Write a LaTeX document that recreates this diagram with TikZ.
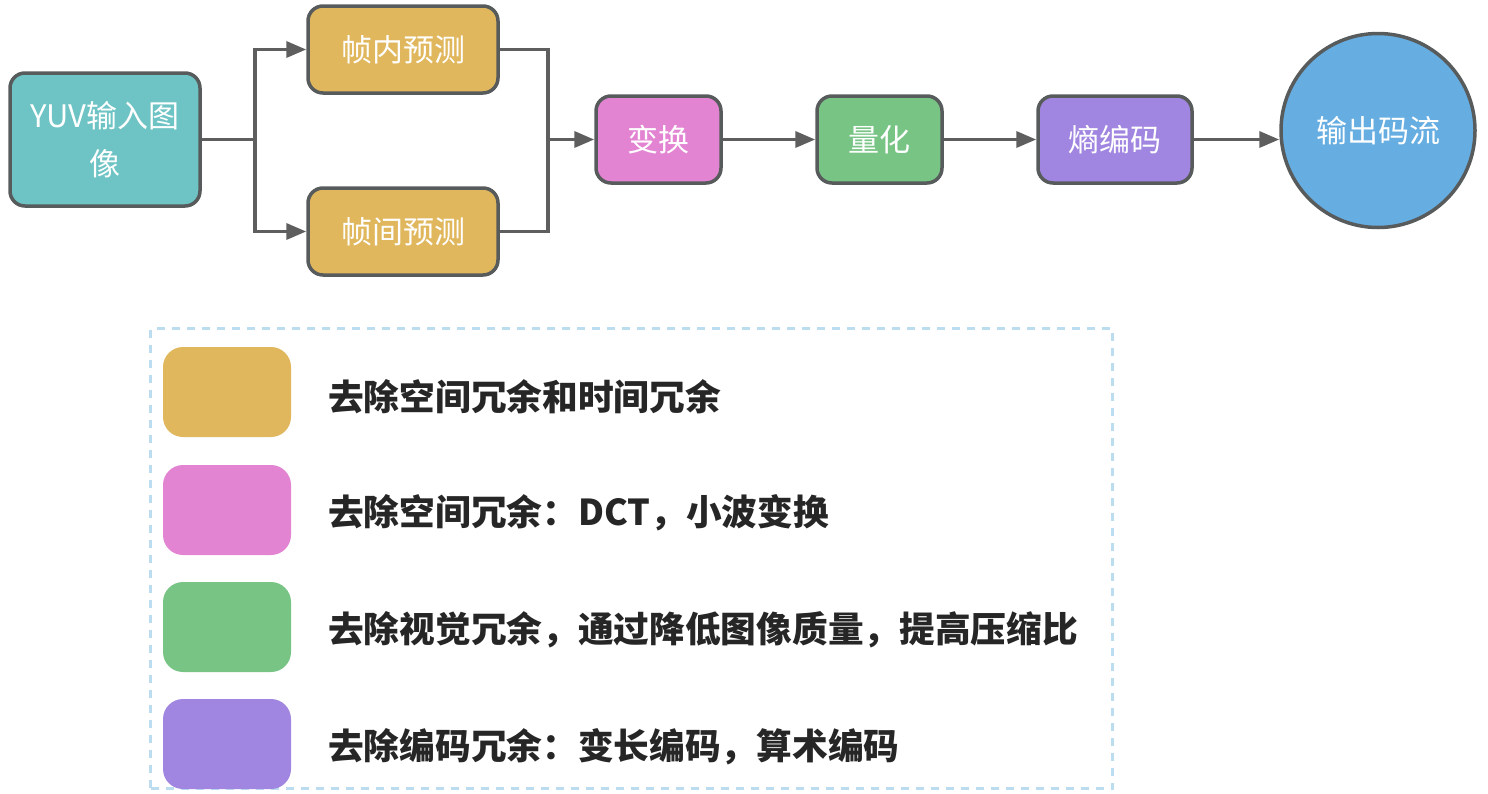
\documentclass[tikz,border=0pt]{standalone}
\usepackage{fontspec}
\setmainfont{Noto Sans CJK SC}
\usetikzlibrary{arrows.meta}
\definecolor{cteal}{HTML}{6EC4C4}
\definecolor{cgold}{HTML}{E0B75C}
\definecolor{cpink}{HTML}{E384D3}
\definecolor{cgreen}{HTML}{77C485}
\definecolor{cpurple}{HTML}{A086E0}
\definecolor{cblue}{HTML}{66AEE2}
\definecolor{cborder}{HTML}{585B5C}
\definecolor{cline}{HTML}{5E5E5E}
\definecolor{cdash}{HTML}{BCDCF0}
\definecolor{ctext}{HTML}{262626}
\begin{document}
\begin{tikzpicture}[x=1pt,y=-1pt,
  proc/.style={draw=cborder,line width=3.5pt,rounded corners=15pt,inner sep=0pt,
    text=white,font=\fontsize{31}{48}\selectfont,align=center},
  conn/.style={draw=cline,line width=3.5pt},
  arr/.style={conn,-{Triangle[length=20pt,width=16pt]}},
  swatch/.style={rounded corners=20pt,minimum width=128pt,minimum height=90pt,inner sep=0pt},
  legtext/.style={anchor=west,text=ctext,font=\fontsize{35.7}{40}\selectfont\bfseries,inner sep=0pt}]
\useasboundingbox (0,0) rectangle (1488,793);
% nodes
\node[proc,fill=cteal,minimum width=190pt,minimum height=133pt] (yuv) at (105,139.5) {YUV输入图\\像};
\node[proc,fill=cgold,minimum width=190pt,minimum height=87pt] (intra) at (403,49.5) {帧内预测};
\node[proc,fill=cgold,minimum width=190pt,minimum height=87pt] (inter) at (403,231.5) {帧间预测};
\node[proc,fill=cpink,minimum width=125pt,minimum height=87pt] (tr) at (658.5,139.5) {变换};
\node[proc,fill=cgreen,minimum width=125pt,minimum height=87pt] (qt) at (879.5,139.5) {量化};
\node[proc,fill=cpurple,minimum width=154pt,minimum height=87pt] (ent) at (1115,139.5) {熵编码};
\node[proc,fill=cblue,circle,minimum size=194pt] (out) at (1378,130.5) {输出码流};
% connectors
\coordinate (sp) at (255,139.5);
\coordinate (mg) at (548,139.5);
\draw[conn] (yuv.east) -- (sp);
\draw[arr] (sp) |- (intra.west);
\draw[arr] (sp) |- (inter.west);
\draw[conn] (intra.east) -| (mg);
\draw[conn] (inter.east) -| (mg);
\draw[arr] (mg) -- (tr.west);
\draw[arr] (tr.east) -- (qt.west);
\draw[arr] (qt.east) -- (ent.west);
\draw[arr] (ent.east) -- (out.west |- ent.east);
% legend
\node[draw=cdash,line width=3pt,dash pattern=on 8pt off 7pt,minimum width=962pt,minimum height=460pt,inner sep=0pt] (leg) at (631.5,558.5) {};
\node[swatch,fill=cgold] (s1) at (227,392) {};
\node[swatch,fill=cpink] (s2) at (227,510) {};
\node[swatch,fill=cgreen] (s3) at (227,627) {};
\node[swatch,fill=cpurple] (s4) at (227,744) {};
\node[legtext] (t1) at (328,397) {去除空间冗余和时间冗余};
\node[legtext] (t2) at (328,513) {去除空间冗余：DCT，小波变换};
\node[legtext] (t3) at (328,630) {去除视觉冗余，通过降低图像质量，提高压缩比};
\node[legtext] (t4) at (328,747) {去除编码冗余：变长编码，算术编码};
\end{tikzpicture}
\end{document}
